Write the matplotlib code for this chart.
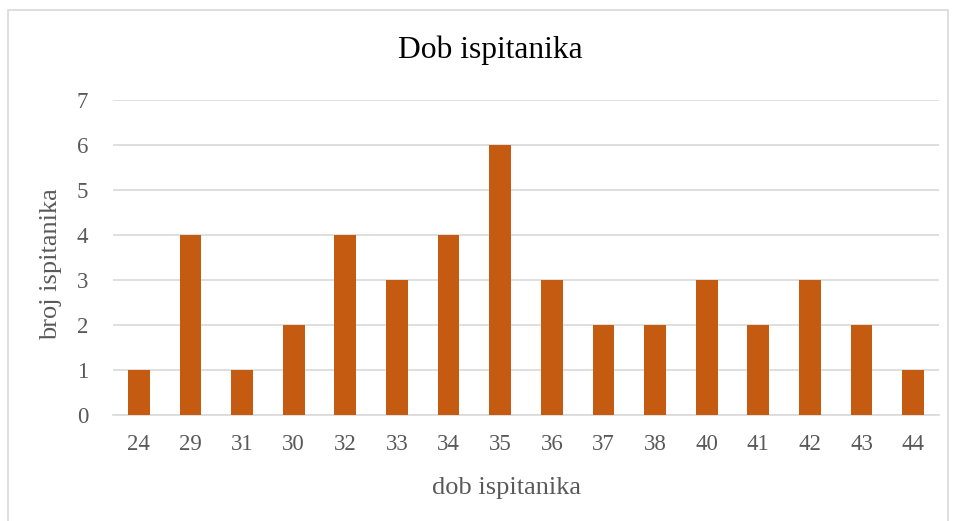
import matplotlib
matplotlib.use("Agg")
import matplotlib.pyplot as plt
from matplotlib.patches import Rectangle

categories = ["24", "29", "31", "30", "32", "33", "34", "35", "36", "37", "38", "40", "41", "42", "43", "44"]
values = [1, 4, 1, 2, 4, 3, 4, 6, 3, 2, 2, 3, 2, 3, 2, 1]
yticks = [0, 1, 2, 3, 4, 5, 6, 7]

plt.rcParams['font.family'] = ['Liberation Serif', 'DejaVu Serif']
txt = '#595959'

fig = plt.figure(figsize=(9.56, 5.21), dpi=100)
ax = fig.add_axes([113/956, 1-415/521, (939-113)/956, (415-100)/521])

x = list(range(len(categories)))
ax.bar(x, values, width=0.42, color='#C55A11', zorder=3)
ax.set_xlim(-0.5, len(categories)-0.5)
ax.set_ylim(0, 7)
ax.set_yticks(yticks)
ax.set_xticks(x)
ax.set_xticklabels(categories)
ax.grid(axis='y', color='#D9D9D9', linewidth=1.2, zorder=0)
for s in ['top', 'right', 'left']:
    ax.spines[s].set_visible(False)
ax.spines['bottom'].set_color('#D9D9D9')
ax.spines['bottom'].set_linewidth(1.2)
ax.tick_params(axis='both', length=0, labelsize=16.5, labelcolor=txt)
ax.tick_params(axis='x', pad=14)
ax.tick_params(axis='y', pad=18)
ax.set_xlabel('dob ispitanika', fontsize=19, color=txt)
ax.xaxis.label.set_verticalalignment('center')
ax.xaxis.set_label_coords((506-113)/826, -(488-415)/315)
ax.set_ylabel('broj ispitanika', fontsize=19, color=txt)
ax.yaxis.label.set_verticalalignment('center')
ax.yaxis.set_label_coords(-(113-51)/826, (415-264)/315)
fig.text(490/956, 1-50/521, 'Dob ispitanika', ha='center', va='center', fontsize=22.7, color='black')

fig.patches.append(Rectangle((8/956, -0.01), (948-8)/956, 1-10/521+0.01, transform=fig.transFigure,
                             fill=False, edgecolor='#D9D9D9', linewidth=1.2))
fig.savefig('out.png', dpi=100)
